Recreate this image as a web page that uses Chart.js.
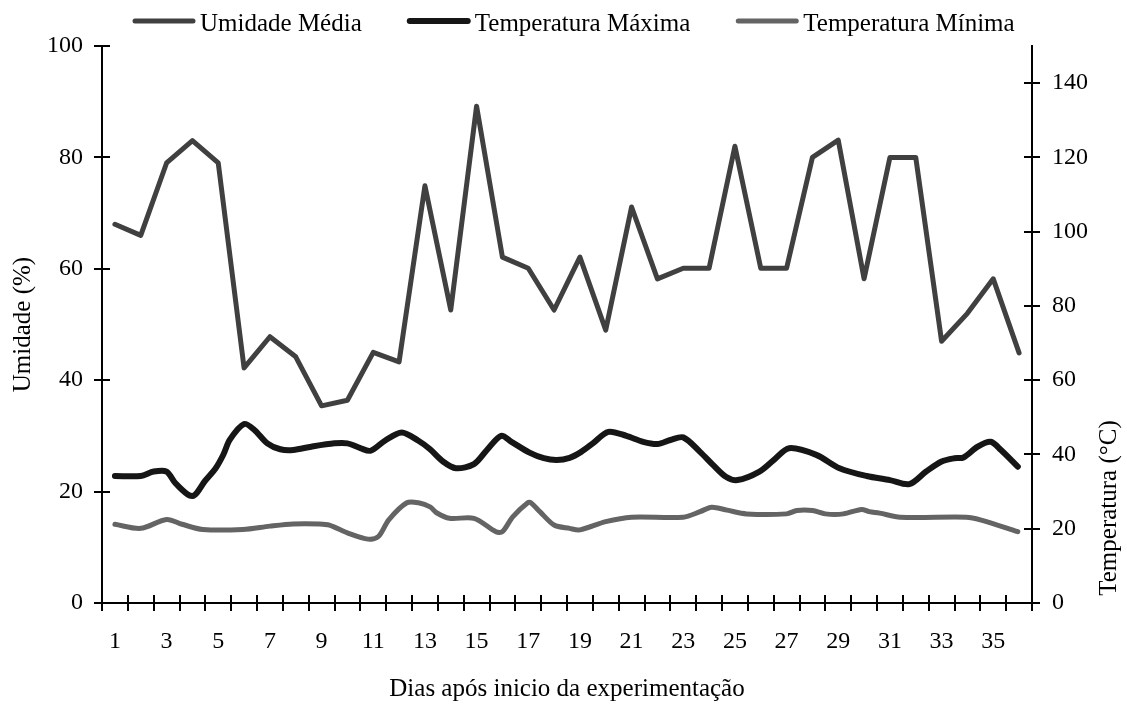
<!DOCTYPE html>
<html>
<head>
<meta charset="utf-8">
<script src="https://cdn.jsdelivr.net/npm/chart.js@4"></script>
<style>
  html, body { margin: 0; padding: 0; background: #fff; }
</style>
</head>
<body>
<canvas id="c" width="1127" height="704"></canvas>
<script>
// dias e umidade media (%)
var days = [1, 2, 3, 4, 5, 6, 7, 8, 9, 10, 11, 12, 13, 14, 15, 16, 17, 18,
	19, 20, 21, 22, 23, 24, 25, 26, 27, 28, 29, 30, 31, 32, 33, 34, 35, 36];
var humidity = [68, 66, 79, 83, 79, 42.2, 47.8, 44.2, 35.4, 36.4, 45, 43.3, 74.9, 52.6, 89.2, 62.1, 60.1, 52.6,
	62.1, 49, 71.1, 58.2, 60.1, 60.1, 82, 60.1, 60.1, 80, 83.1, 58.2, 80, 80, 47, 52, 58.2, 44.9];

// temperatura maxima (oC)
var tmaxDays = [1, 2, 2.5, 3, 3.35, 4, 4.5, 4.9, 5.2, 5.45, 6, 6.4, 6.9, 7.4, 7.9, 8.6, 9.5, 10, 10.5, 10.9,
	11.45, 12.1, 12.75, 13.2, 13.7, 14.2, 14.9, 15.4, 15.95, 16.35, 17.05, 17.6, 18.1, 18.6, 19.05, 19.5,
	20.1, 20.8, 21.45, 22, 22.5, 23, 23.65, 24.15, 24.65, 25.1, 25.95, 26.5, 27.1, 28.15, 29.05, 30.1,
	31, 31.75, 32.4, 33, 33.5, 33.85, 34.4, 34.9, 35.3, 35.95];
var tmax = [34.2, 34.2, 35.4, 35.4, 32.2, 28.8, 33, 36.3, 40, 44, 48.2, 46.6, 43, 41.4, 41.2, 42.1, 43, 43, 41.7, 41,
	43.7, 45.9, 43.7, 41.4, 38.1, 36.3, 37.4, 41.2, 45, 43.4, 40.5, 39, 38.5, 39.1, 40.7, 43,
	46.1, 45, 43.4, 42.8, 43.9, 44.6, 40.7, 37.2, 34, 33.1, 35.4, 38.5, 41.7, 39.9, 36.3, 34.2,
	33.1, 32, 35.4, 38.1, 39, 39.2, 42.1, 43.4, 41.2, 36.7];

// temperatura minima (oC)
var tminDays = [1, 2, 3, 3.6, 4.4, 5.95, 7, 7.9, 8.9, 9.3, 10, 10.8, 11.2, 11.6, 12.3, 12.75, 13.2, 13.45, 13.95,
	14.9, 15.75, 16, 16.4, 16.98, 17.1, 17.45, 18, 18.6, 19, 20, 21, 23, 23.65, 24.1, 24.7, 25.45, 27, 27.4,
	28, 28.5, 29.2, 29.9, 30.2, 30.6, 31.4, 33.95, 34.5, 35.95];
var tmin = [21.2, 20.1, 22.5, 21.2, 19.8, 19.8, 20.7, 21.3, 21.3, 21, 18.9, 17.2, 17.9, 22.4, 27, 27, 25.9, 24.3, 22.8,
	22.8, 19.2, 19.2, 23.2, 27, 27, 24.6, 21, 20.1, 19.7, 21.9, 23.1, 23.1, 24.6, 25.8, 25, 24, 24, 24.9,
	24.9, 24, 24, 25.2, 24.6, 24.2, 23.1, 23.1, 22.4, 19.2];

var xTickLabels = [1, 3, 5, 7, 9, 11, 13, 15, 17, 19, 21, 23, 25, 27, 29, 31, 33, 35];
var seriesNames = ["Umidade Média", "Temperatura Máxima", "Temperatura Mínima"];
var seriesColors = ["#404040", "#161616", "#646464"];

var FONT = "'Liberation Serif', 'Times New Roman', serif";

function pts(xs, ys){
	return xs.map(function(x, i){ return {x: x, y: ys[i]}; });
}

// marcas entre os dias (0.5, 1.5, ...) + dias rotulados
var xTicks = days.map(function(d){ return d - 0.5; });
xTicks.push(days[days.length - 1] + 0.5);
xTicks = xTicks.concat(xTickLabels).sort(function(a, b){ return a - b; });

// tracinhos que cruzam o eixo (parte de dentro)
var innerTicks = {
	id: 'innerTicks',
	afterDraw: function(chart){
		var ctx = chart.ctx, a = chart.chartArea;
		ctx.save();
		ctx.strokeStyle = '#000';
		ctx.lineWidth = 2;
		ctx.beginPath();
		chart.scales.x.ticks.forEach(function(t){
			if (Number.isInteger(t.value)) return;
			var px = Math.round(chart.scales.x.getPixelForValue(t.value));
			ctx.moveTo(px, a.bottom); ctx.lineTo(px, a.bottom - 8);
		});
		chart.scales.y.ticks.forEach(function(t){
			var py = Math.round(chart.scales.y.getPixelForValue(t.value));
			ctx.moveTo(a.left, py); ctx.lineTo(a.left + 8, py);
		});
		chart.scales.y2.ticks.forEach(function(t){
			var py = Math.round(chart.scales.y2.getPixelForValue(t.value));
			ctx.moveTo(a.right, py); ctx.lineTo(a.right - 8, py);
		});
		ctx.stroke();
		ctx.restore();
	}
};

// legenda e titulo do eixo direito
var extras = {
	id: 'extras',
	afterDraw: function(chart){
		var ctx = chart.ctx;
		ctx.save();
		ctx.font = "25px " + FONT;
		ctx.fillStyle = '#000';
		ctx.textBaseline = 'alphabetic';
		ctx.textAlign = 'left';
		var x = 135;
		chart.data.datasets.forEach(function(ds){
			ctx.strokeStyle = ds.borderColor;
			ctx.lineWidth = ds.borderWidth;
			ctx.lineCap = 'round';
			ctx.beginPath();
			ctx.moveTo(x, 21); ctx.lineTo(x + 58, 21);
			ctx.stroke();
			ctx.fillText(ds.label, x + 65, 31);
			x += 65 + ctx.measureText(ds.label).width + 48;
		});

		ctx.translate(1109, 508);
		ctx.rotate(-Math.PI / 2);
		ctx.textAlign = 'center';
		ctx.textBaseline = 'middle';
		ctx.fillText("Temperatura (°C)", 0, 0);
		ctx.restore();
	}
};

var config = {
	type: 'line',
	data: {
		datasets: [
			{
				label: seriesNames[0],
				data: pts(days, humidity),
				yAxisID: 'y',
				borderColor: seriesColors[0],
				borderWidth: 5,
				tension: 0
			},
			{
				label: seriesNames[1],
				data: pts(tmaxDays, tmax),
				yAxisID: 'y2',
				borderColor: seriesColors[1],
				borderWidth: 6,
				tension: 0.3
			},
			{
				label: seriesNames[2],
				data: pts(tminDays, tmin),
				yAxisID: 'y2',
				borderColor: seriesColors[2],
				borderWidth: 5,
				tension: 0.3
			}
		]
	},
	options: {
		responsive: false,
		animation: false,
		devicePixelRatio: 1,
		layout: { padding: { top: 46, left: 0, right: 0, bottom: 0 } },
		elements: {
			point: { radius: 0, hoverRadius: 0 },
			line: { borderCapStyle: 'round', borderJoinStyle: 'round', fill: false }
		},
		plugins: {
			legend: { display: false },
			tooltip: { enabled: false }
		},
		scales: {
			x: {
				type: 'linear',
				min: 0.5,
				max: 36.5,
				afterBuildTicks: function(scale){
					scale.ticks = xTicks.map(function(v){ return {value: v}; });
				},
				afterFit: function(scale){ scale.height = 101; },
				border: { color: '#000', width: 2 },
				grid: {
					drawOnChartArea: false,
					tickLength: 8,
					lineWidth: 2,
					color: function(c){
						return (c.tick && Number.isInteger(c.tick.value)) ? 'rgba(0,0,0,0)' : '#000';
					}
				},
				ticks: {
					autoSkip: false,
					maxRotation: 0,
					padding: 16,
					color: '#000',
					font: { family: FONT, size: 24 },
					callback: function(v){ return xTickLabels.indexOf(v) >= 0 ? String(v) : ''; }
				},
				title: {
					display: true,
					text: 'Dias após inicio da experimentação',
					color: '#000',
					font: { family: FONT, size: 25 },
					padding: { top: 0, bottom: 0 }
				}
			},
			y: {
				position: 'left',
				min: 0,
				max: 100,
				afterFit: function(scale){ scale.width = 102; },
				border: { color: '#000', width: 2 },
				grid: { drawOnChartArea: false, tickLength: 8, lineWidth: 2, color: '#000' },
				ticks: {
					stepSize: 20,
					padding: 11,
					color: '#000',
					font: { family: FONT, size: 24 }
				},
				title: {
					display: true,
					text: 'Umidade (%)',
					color: '#000',
					font: { family: FONT, size: 25 },
					padding: { top: 8, bottom: 0 }
				}
			},
			y2: {
				position: 'right',
				min: 0,
				max: 150,
				afterBuildTicks: function(scale){
					scale.ticks = scale.ticks.filter(function(t){ return t.value <= 140; });
				},
				afterFit: function(scale){ scale.width = 95; },
				border: { color: '#000', width: 2 },
				grid: { drawOnChartArea: false, tickLength: 8, lineWidth: 2, color: '#000' },
				ticks: {
					stepSize: 20,
					padding: 12,
					color: '#000',
					font: { family: FONT, size: 24 }
				}
			}
		}
	},
	plugins: [innerTicks, extras]
};

var myChart = new Chart(document.getElementById('c'), config);
</script>
</body>
</html>
